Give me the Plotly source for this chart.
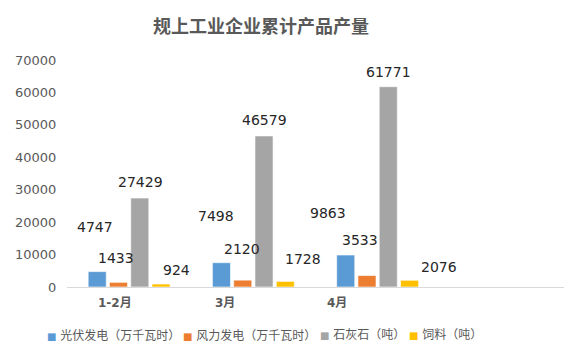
import plotly.graph_objects as go

categories = ["1-2月", "3月", "4月"]
series_names = ["光伏发电（万千瓦时）", "风力发电（万千瓦时）", "石灰石（吨）", "饲料（吨）"]
pv = [4747, 7498, 9863]
wind = [1433, 2120, 3533]
limestone = [27429, 46579, 61771]
feed = [924, 1728, 2076]
y_ticks = [0, 10000, 20000, 30000, 40000, 50000, 60000, 70000]

colors = ["#5B9BD5", "#ED7D31", "#A5A5A5", "#FFC000"]
values = [pv, wind, limestone, feed]

# layout-only offsets (pixels)
label_dx = [[-34, -37, -50], [-13, -11, -18], [11, 11, 11], [47, 50, 61]]
label_dy = [[45, 47, 42], [24, 31, 36], [16, 16, 15], [14, 22, 13]]
cat_dx = [-14, -28, -41]
legend_x = [45, 181, 318, 407]   # left edge of each legend entry (px)

W, H = 585, 361
ML, MR, MT, MB = 67, 21, 60, 74
PW, PH = W - ML - MR, H - MT - MB


def px_to_paper(px, py):
    return (px - ML) / PW, (H - MB - py) / PH


fig = go.Figure()
for name, vals, c in zip(series_names, values, colors):
    fig.add_trace(go.Bar(x=categories, y=vals, name=name, showlegend=False,
                         marker=dict(color=c, line=dict(color="rgba(255,255,255,0.6)", width=1))))

ann = []
for s, vals in enumerate(values):
    for i, v in enumerate(vals):
        ann.append(dict(x=categories[i], y=v, xref="x", yref="y", text=str(v),
                        showarrow=False, xshift=label_dx[s][i], yshift=label_dy[s][i],
                        yanchor="middle", xanchor="center",
                        font=dict(family="DejaVu Sans", size=14, color="#262626")))
for i, c in enumerate(categories):
    ann.append(dict(x=c, y=0, xref="x", yref="paper", text="<b>%s</b>" % c,
                    showarrow=False, xshift=cat_dx[i], yshift=-16, yanchor="middle",
                    font=dict(family="DejaVu Sans, Noto Sans CJK SC", size=12, color="#595959")))
# legend (drawn as text): colored square + label
for name, c, lx in zip(series_names, colors, legend_x):
    ax, ay = px_to_paper(lx, 335)
    ann.append(dict(x=ax, y=ay, xref="paper", yref="paper",
                    xanchor="left", yanchor="middle", showarrow=False,
                    text="<span style='color:%s;font-size:10px'>■</span> %s" % (c, name),
                    font=dict(family="DejaVu Sans, Noto Sans CJK SC", size=12, color="#595959")))

fig.update_layout(
    width=W, height=H,
    margin=dict(l=ML, r=MR, t=MT, b=MB),
    paper_bgcolor="white", plot_bgcolor="white",
    barmode="group", bargap=0.315, bargroupgap=0.15,
    hovermode=False,
    title=dict(text="<b>规上工业企业累计产品产量</b>", x=261 / W, xref="container", xanchor="center",
               y=1 - 27 / H, yref="container", yanchor="middle",
               font=dict(family="Noto Sans CJK SC", size=18, color="#595959")),
    xaxis=dict(range=[-0.5, 3.5], showticklabels=False, ticks="", showgrid=False,
               showline=True, linecolor="#D9D9D9", linewidth=1, zeroline=False,
               fixedrange=True),
    yaxis=dict(range=[0, 70000], tickvals=y_ticks, tickformat="d", showgrid=False, zeroline=False,
               showline=False, ticks="outside", ticklen=7, tickcolor="rgba(0,0,0,0)",
               tickfont=dict(family="DejaVu Sans", size=13, color="#595959"), fixedrange=True),
    annotations=ann,
    showlegend=False,
)

fig.write_html("out.html", config={"displayModeBar": False, "staticPlot": True},
               post_script="document.body.style.margin='0';")
